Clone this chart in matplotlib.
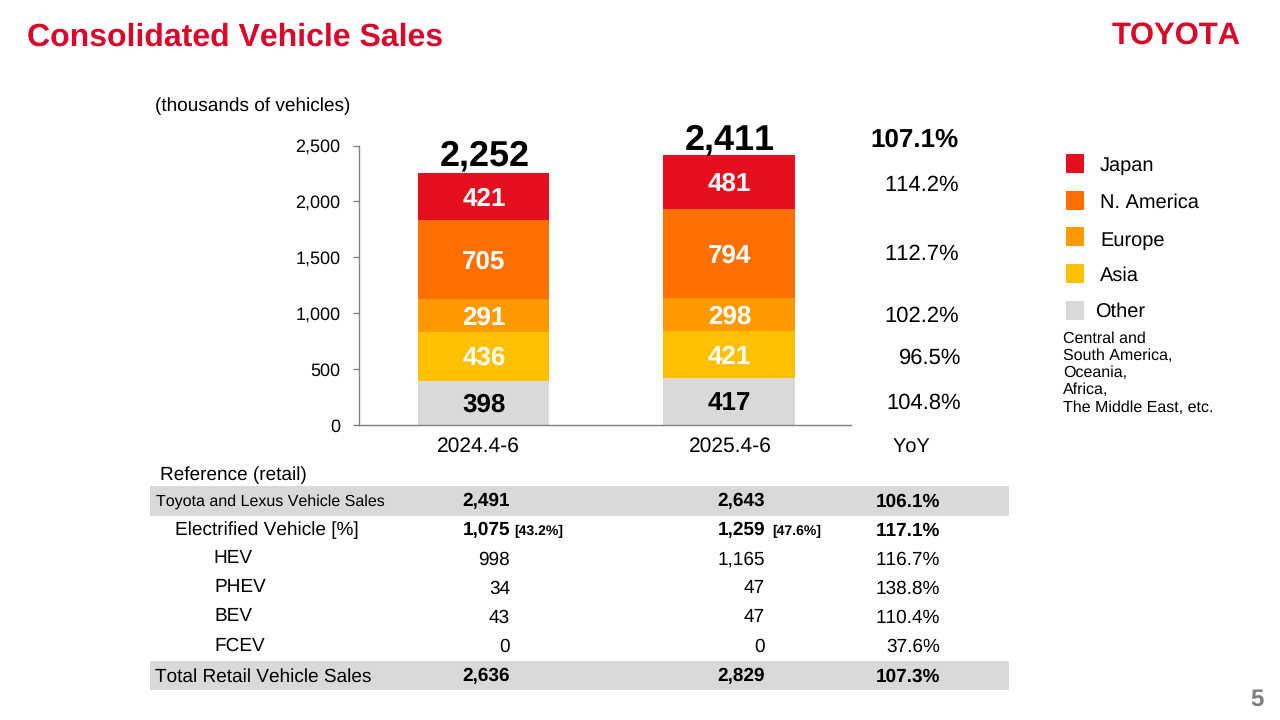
import matplotlib
matplotlib.use("Agg")
import matplotlib.pyplot as plt
from matplotlib.patches import Rectangle

plt.rcParams['font.family'] = ['Liberation Sans', 'DejaVu Sans']
plt.rcParams['text.hinting'] = 'no_hinting'
plt.rcParams['text.hinting_factor'] = 1
plt.rcParams['text.kerning_factor'] = 6

# ---- data ----
periods = ['2024.4-6', '2025.4-6']
regions = ['Other', 'Asia', 'Europe', 'N. America', 'Japan']
other = [398, 417]
asia = [436, 421]
europe = [291, 298]
n_america = [705, 794]
japan = [421, 481]
totals = [2252, 2411]
colors = ['#D9D9D9', '#FFC000', '#FF9900', '#FF6F00', '#E60F20']
yoy_labels = ['107.1%', '114.2%', '112.7%', '102.2%', '96.5%', '104.8%']
legend_regions = ['Japan', 'N. America', 'Europe', 'Asia', 'Other']
legend_note = 'Central and\nSouth America,\nOceania,\nAfrica,\nThe Middle East, etc.'

row_names = ['Toyota and Lexus Vehicle Sales', 'Electrified Vehicle [%]', 'HEV', 'PHEV', 'BEV', 'FCEV', 'Total Retail Vehicle Sales']
col_2024 = ['2,491', '1,075', '998', '34', '43', '0', '2,636']
col_2025 = ['2,643', '1,259', '1,165', '47', '47', '0', '2,829']
col_yoy = ['106.1%', '117.1%', '116.7%', '138.8%', '110.4%', '37.6%', '107.3%']
share_2024 = '[43.2%]'
share_2025 = '[47.6%]'

W, H = 1280, 720
fig = plt.figure(figsize=(12.8, 7.2), dpi=100, facecolor='white')

def T(x, y, s, size, ha='left', va='center', weight='normal', color='#000000', **kw):
    return fig.text(x / W, 1 - (y + 1.5) / H, s, fontsize=size, ha=ha, va=va, fontweight=weight, color=color, **kw)

def R(x0, y0, x1, y1, color):
    fig.add_artist(Rectangle((x0 / W, 1 - y1 / H), (x1 - x0) / W, (y1 - y0) / H,
                             transform=fig.transFigure, facecolor=color, edgecolor='none', zorder=0))

# ---- chart ----
L, Rt, Top, Bot = 359, 851, 145.5, 425
ax = fig.add_axes([L / W, 1 - Bot / H, (Rt - L) / W, (Bot - Top) / H])
ax.set_ylim(0, 2500)
ax.set_xlim(-0.507, 1.497)
ax.patch.set_alpha(0)
xs = [0, 1]
bottom = [0, 0]
for series, c in zip([other, asia, europe, n_america, japan], colors):
    ax.bar(xs, series, width=0.536, bottom=bottom, color=c, edgecolor='none')
    txt = '#000000' if c == '#D9D9D9' else '#FFFFFF'
    for x, v, b in zip(xs, series, bottom):
        ax.annotate(f'{v:,}', (x, b + v / 2), xytext=(0.4, -1.5), textcoords='offset points',
                    ha='center', va='center', fontsize=18.4, fontweight='bold', color=txt)
    bottom = [b + v for b, v in zip(bottom, series)]
total_gap = [5.8, 4.7]
for x, t, g in zip(xs, totals, total_gap):
    ax.annotate(f'{t:,}', (x, t), xytext=(0.6, g), textcoords='offset points',
                ha='center', va='baseline', fontsize=25.8, fontweight='bold', color='#000000')

for s in ['top', 'right']:
    ax.spines[s].set_visible(False)
for s in ['left', 'bottom']:
    ax.spines[s].set_color('#808080')
    ax.spines[s].set_linewidth(1)
ax.set_yticks(range(0, 2501, 500))
ax.set_yticklabels([f'{v:,}' for v in range(0, 2501, 500)], fontsize=12.8)
ax.tick_params(axis='y', length=4, width=1, color='#808080', pad=9.5)
ax.set_xticks(xs)
ax.set_xticklabels([])
ax.tick_params(axis='x', length=0)

T(478.5, 445, periods[0], 15, ha='center')
T(730.5, 445, periods[1], 15, ha='center')
T(911, 445, 'YoY', 14.5, ha='center')
T(155, 105, '(thousands of vehicles)', 13.8)

# header
T(27, 36, 'Consolidated Vehicle Sales', 23.4, weight='bold', color='#D9072A')
T(1176, 34, 'TOYOTA', 22.6, ha='center', weight='bold', color='#D9072A')

# YoY column
yoy_y = [139, 184, 253, 315, 357, 402]
yoy_x = [959, 959, 959, 959, 961, 961]
for i, (s, y, x) in enumerate(zip(yoy_labels, yoy_y, yoy_x)):
    T(x, y, s, 19 if i == 0 else 16, ha='right', weight='bold' if i == 0 else 'normal')

# legend
leg_y = [163.5, 200.5, 236.5, 273.5, 310.5]
leg_ty = [164, 201, 239, 274, 310]
leg_tx = [1100, 1100, 1100, 1100, 1095]
leg_c = [colors[4], colors[3], colors[2], colors[1], colors[0]]
for n, y, ty, tx, c in zip(legend_regions, leg_y, leg_ty, leg_tx, leg_c):
    R(1066, y - 9.5, 1084, y + 9.5, c)
    T(tx, ty, n, 14.5)
T(1063, 371.5, legend_note, 11.5, linespacing=1.2)

# table
T(160, 474, 'Reference (retail)', 13.8)
R(150, 486, 1009, 516, '#D9D9D9')
R(150, 661, 1009, 690, '#D9D9D9')
row_y = [500, 529, 558, 587, 616, 645, 675]
row_x = [156, 175, 213, 214, 214, 214, 155]
row_lab_y = [500, 529, 557, 586, 615, 644, 675]
row_size = [11.6, 13.8, 13.8, 13.8, 13.8, 13.8, 13.6]
for i, y in enumerate(row_y):
    w = 'bold' if i in (0, 1, 6) else 'normal'
    T(row_x[i], row_lab_y[i], row_names[i], row_size[i])
    T(510, y, col_2024[i], 13.6, ha='right', weight=w)
    T(765, y, col_2025[i], 13.6, ha='right', weight=w)
    T(940, y, col_yoy[i], 13.6, ha='right', weight=w)
T(514, 529.5, share_2024, 10, weight='bold')
T(772, 529.5, share_2025, 10, weight='bold')

T(1264, 698, '5', 17, ha='right', weight='bold', color='#7F7F7F')

fig.savefig('out.png', dpi=100)
